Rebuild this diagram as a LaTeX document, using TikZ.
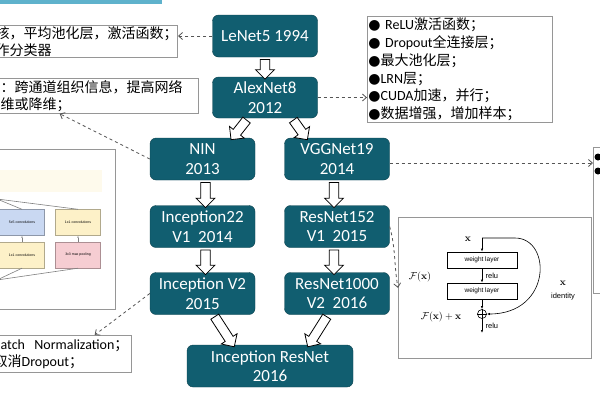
\documentclass[tikz,border=0pt]{standalone}
\usepackage[no-math]{fontspec}
\setmainfont{Carlito}
\newfontfamily\cjk{Noto Sans CJK SC}
\newfontfamily\figfont{Liberation Sans}
\newfontfamily\dotfont{DejaVu Sans}
\usetikzlibrary{shapes.arrows, arrows.meta, calc, positioning}
\definecolor{netteal}{RGB}{17,94,112}
\definecolor{notegray}{RGB}{150,150,150}
\definecolor{dashgray}{RGB}{85,85,85}
\definecolor{barblue}{RGB}{95,178,204}
\definecolor{convblue}{RGB}{201,216,242}
\definecolor{convyellow}{RGB}{253,241,200}
\definecolor{poolpink}{RGB}{246,205,210}

% latin words and bullets inside the chinese notes
\newcommand{\engl}[1]{{\normalfont #1}}
\newcommand{\bul}{{\dotfont ●}}

% hollow block arrow between two points
\newcommand{\fatarrow}[2]{%
  \path let \p1=($(#2)-(#1)$), \n1={veclen(\x1,\y1)} in
    (#1) -- node[fatarr, sloped, allow upside down, minimum height=\n1] {} (#2);}

\begin{document}
\begin{tikzpicture}[x=1pt, y=-1pt,
  net/.style={draw=netteal!70!black, fill=netteal, rounded corners=6pt, text=white,
    align=center, font=\fontsize{17}{19.5}\selectfont,
    minimum width=105pt, minimum height=42pt, inner sep=1pt},
  note/.style={draw=notegray, fill=white, line width=0.7pt, align=left,
    inner xsep=1pt, inner ysep=1pt, font=\cjk\fontsize{14}{17}\selectfont},
  dasharr/.style={draw=dashgray, dashed, line width=0.8pt,
    -{Straight Barb[length=4pt, width=7pt]}},
  fatarr/.style={single arrow, draw=black, fill=white, line width=0.8pt,
    inner sep=4.3pt, single arrow head extend=4.7pt, single arrow head indent=0pt},
  layer/.style={draw, line width=0.6pt, minimum width=70pt, minimum height=16pt,
    inner sep=0pt, font=\figfont\fontsize{6.5}{7}\selectfont},
  incbox/.style={draw, minimum width=45pt, minimum height=26pt, inner sep=0pt,
    font=\figfont\fontsize{3.5}{4}\selectfont}]
\useasboundingbox (0,0) rectangle (600,400);
\clip (0,0) rectangle (600,400);
\fill[white] (0,0) rectangle (600,400);
\fill[barblue] (0,0) rectangle (162,3.5);

% networks
\node[net] (lenet) at (265,36) {LeNet5 1994};
\node[net, minimum height=41pt] (alex) at (265,97.5) {AlexNet8\\2012};
\node[net] (nin) at (202.5,159) {NIN\\2013};
\node[net] (vgg) at (337,159) {VGGNet19\\2014};
\node[net] (inc1) at (202.5,226.5) {Inception22\\V1\ \ 2014};
\node[net] (res1) at (337,226.5) {ResNet152\\V1\ \ 2015};
\node[net] (inc2) at (202.5,293.5) {Inception V2\\2015};
\node[net] (res2) at (337,293.5) {ResNet1000\\V2\ \ 2016};
\node[net, minimum width=166pt] (incres) at (270,366) {Inception ResNet\\2016};

% block arrows
\fatarrow{lenet.south}{alex.north}
\fatarrow{[xshift=-17pt]alex.south}{[xshift=30pt]nin.north}
\fatarrow{[xshift=27pt]alex.south}{[xshift=-31pt]vgg.north}
\fatarrow{[xshift=3pt]nin.south}{[xshift=3pt]inc1.north}
\fatarrow{[xshift=-3pt]vgg.south}{[xshift=-3pt]res1.north}
\fatarrow{[xshift=3pt]inc1.south}{[xshift=3pt]inc2.north}
\fatarrow{[xshift=-3pt]res1.south}{[xshift=-3pt]res2.north}
\fatarrow{[xshift=11pt]inc2.south}{[xshift=-37pt]incres.north}
\fatarrow{[xshift=-9pt]res2.south}{[xshift=39pt]incres.north}

% notes
\node[note, anchor=north east, text width=181pt, minimum height=32pt] (lenetnote) at (178,25)
  {核，平均池化层，激活函数；\\作分类器};
\node[note, anchor=north east, text width=197pt, minimum height=35pt] (ninnote) at (199,78)
  {：跨通道组织信息，提高网络\\维或降维；};
\node[note, anchor=north west, text width=183pt, minimum height=106pt,
  font=\cjk\fontsize{14}{17.8}\selectfont] (alexnote) at (367,16)
  {\bul\engl{ ReLU}激活函数；\\\bul\engl{ Dropout}全连接层；\\\bul 最大池化层；\\\bul\engl{LRN}层；\\\bul\engl{CUDA}加速，并行；\\\bul 数据增强，增加样本；};
\node[note, anchor=north east, text width=137pt, minimum height=37pt] (bnnote) at (132,335)
  {\hspace*{7pt}\engl{atch\ \ Normalization}；\\取消\engl{Dropout}；};
\node[note, anchor=north west, minimum width=30pt, minimum height=146pt] (vggnote) at (593,147) {};
\fill (598,157) circle (3.5pt) (598,171) circle (3.5pt);

% inception module picture
\node[note, anchor=north east, minimum width=130pt, minimum height=160pt] (incfig) at (116,149) {};
\fill[convyellow!35] (0,170) rectangle (102,192);
\node[incbox, fill=convblue, draw=convblue!70!black] (c5) at (22,222.5) {5x5 convolutions};
\node[incbox, fill=convyellow, draw=convyellow!70!black] (c1a) at (78,222.5) {1x1 convolutions};
\node[incbox, fill=convyellow, draw=convyellow!70!black] (c1b) at (22,255) {1x1 convolutions};
\node[incbox, fill=poolpink, draw=poolpink!70!black] (pool) at (78,255) {3x3 max pooling};
\coordinate (concat) at (-3,199);
\coordinate (prevl) at (-3,280);
\draw[gray, line width=0.6pt] (concat) -- (c5.north) (concat) -- (c1a.north);
\draw[gray, line width=0.6pt] (prevl) -- (c1b.south) (prevl) -- (pool.south);
\draw[gray, -{Latex[length=2pt]}] (c1b) -- (c5);
\draw[gray, -{Latex[length=2pt]}] (pool) -- (c1a);

% residual block picture
\node[note, anchor=north west, minimum width=193pt, minimum height=141pt] (resfig) at (398,217) {};
\node (xin) at (468,239) {$\mathbf{x}$};
\coordinate (xtop) at (482,238);
\node[layer] (wl1) at (482,260) {weight layer};
\node[layer] (wl2) at (482,291) {weight layer};
\node[circle, draw, line width=0.6pt, inner sep=0pt, minimum size=9pt] (plus) at (482,314) {};
\draw[line width=0.6pt] (plus.north) -- (plus.south) (plus.west) -- (plus.east);
\coordinate (xout) at (482,333);
\draw[line width=0.6pt, -{Latex[length=3pt]}] (xtop) -- (wl1);
\draw[line width=0.6pt, -{Latex[length=3pt]}] (wl1) -- node[right, font=\figfont\fontsize{7.5}{8}\selectfont] {relu} (wl2);
\draw[line width=0.6pt, -{Latex[length=3pt]}] (wl2) -- (plus);
\draw[line width=0.6pt, -{Latex[length=3pt]}] (plus) -- node[right, font=\figfont\fontsize{7.5}{8}\selectfont] {relu} (xout);
\draw[line width=0.6pt, -{Latex[length=3pt]}] (xtop) -- (515,238) .. controls (552,238) and (552,314) .. (plus.east);
\node (fx) at (420,277) {$\mathcal{F}(\mathbf{x})$};
\node (fxx) at (441,317) {$\mathcal{F}(\mathbf{x})+\mathbf{x}$};
\node (xid) at (563,283) {$\mathbf{x}$};
\node[font=\figfont\fontsize{7.5}{8}\selectfont] (idt) at (563,297) {identity};

% dashed links
\draw[dasharr] (lenet.west) -- (lenet.west -| lenetnote.east);
\draw[dasharr] (alex.east) -- (alex.east -| alexnote.west);
\draw[dasharr] (nin.west) -- ([xshift=-39.5pt]ninnote.south);
\draw[dasharr] ($(vgg.east)+(0,4)$) -- ($(vgg.east -| vggnote.west)+(0,4)$);
\draw[dasharr] (inc2.west) -- ([xshift=32.5pt]bnnote.north);
\draw[dasharr] (res1.east) to[out=-75, in=100] (resfig.west);
\end{tikzpicture}
\end{document}
